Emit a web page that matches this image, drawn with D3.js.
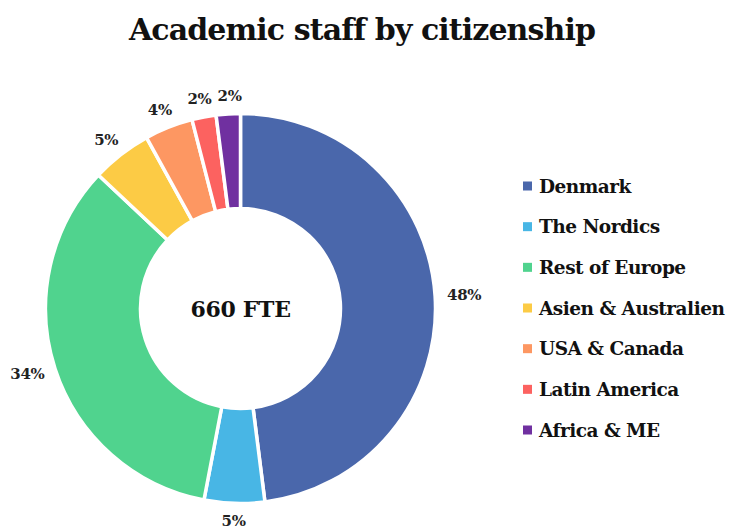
<!DOCTYPE html>
<html>
<head>
<meta charset="utf-8">
<script src="https://cdn.jsdelivr.net/npm/d3@7"></script>
<style>
  html, body { margin: 0; padding: 0; background: #fff; }
  svg { display: block; font-family: "DejaVu Serif", "Liberation Serif", serif; }
</style>
</head>
<body>
<svg id="chart" width="729" height="530"></svg>
<script>
// Academic staff by citizenship (share of 660 FTE)
const categories = ["Denmark", "The Nordics", "Rest of Europe", "Asien & Australien", "USA & Canada", "Latin America", "Africa & ME"];
const shares = [48, 5, 34, 5, 4, 2, 2];
const colors = ["#4a67ab", "#48b6e5", "#50d38e", "#fccb45", "#fd9762", "#fc6260", "#7030a0"];
const centerLabel = "660 FTE";
const title = "Academic staff by citizenship";

const svg = d3.select("#chart");
const cx = 240.5, cy = 308.5;
const outerR = 195, innerR = 100;

svg.append("text")
  .attr("x", 362).attr("y", 40)
  .attr("text-anchor", "middle")
  .attr("font-weight", "bold")
  .attr("font-size", 30)
  .attr("letter-spacing", -0.9)
  .attr("fill", "#111")
  .text(title);

const data = categories.map((c, i) => ({ name: c, value: shares[i], color: colors[i] }));
const pie = d3.pie().value(d => d.value).sort(null);
const arcs = pie(data);
const arc = d3.arc().innerRadius(innerR).outerRadius(outerR);

const g = svg.append("g").attr("transform", `translate(${cx},${cy})`);
g.selectAll("path.slice")
  .data(arcs)
  .join("path")
  .attr("class", "slice")
  .attr("d", arc)
  .attr("fill", d => d.data.color)
  .attr("stroke", "#fff")
  .attr("stroke-width", 3.5)
  .attr("stroke-linejoin", "miter");

// Percentage labels sit just outside the ring, pushed outward by half their size
const labelR = outerR + 12;
const lbl = g.selectAll("text.pct")
  .data(arcs)
  .join("text")
  .attr("class", "pct")
  .attr("font-size", 15)
  .attr("font-weight", "bold")
  .attr("letter-spacing", -0.3)
  .attr("fill", "#222")
  .attr("text-anchor", "middle")
  .attr("dominant-baseline", "central")
  .text(d => d.data.value + "%");

const placed = [];
lbl.each(function(d) {
  const a = (d.startAngle + d.endAngle) / 2;
  const w = this.getComputedTextLength();
  const h = 12;
  placed.push({
    node: this, w,
    x: Math.sin(a) * labelR + Math.sin(a) * w / 2,
    y: -Math.cos(a) * labelR - Math.cos(a) * h / 2
  });
});
// Nudge neighbouring labels apart when they would collide
const byX = placed.slice().sort((p, q) => p.x - q.x);
for (let i = 1; i < byX.length; i++) {
  const p = byX[i - 1], q = byX[i];
  if (Math.abs(p.y - q.y) < 16) {
    const minDx = (p.w + q.w) / 2 + 6;
    if (q.x - p.x < minDx) q.x = p.x + minDx;
  }
}
placed.forEach(p => d3.select(p.node).attr("x", p.x).attr("y", p.y));

g.append("text")
  .attr("text-anchor", "middle")
  .attr("dominant-baseline", "central")
  .attr("font-size", 22)
  .attr("font-weight", "bold")
  .attr("letter-spacing", -0.3)
  .attr("fill", "#111")
  .text(centerLabel);

// Legend
const legendY = d3.scalePoint().domain(categories).range([186, 430]);
const legend = svg.append("g");
const rows = legend.selectAll("g")
  .data(data)
  .join("g")
  .attr("transform", d => `translate(523,${legendY(d.name)})`);
rows.append("rect")
  .attr("x", 0).attr("y", -4.5)
  .attr("width", 9).attr("height", 9)
  .attr("fill", d => d.color);
rows.append("text")
  .attr("x", 16)
  .attr("dominant-baseline", "central")
  .attr("font-size", 18.5)
  .attr("font-weight", "bold")
  .attr("letter-spacing", -0.5)
  .attr("fill", "#111")
  .text(d => d.name);
</script>
</body>
</html>
